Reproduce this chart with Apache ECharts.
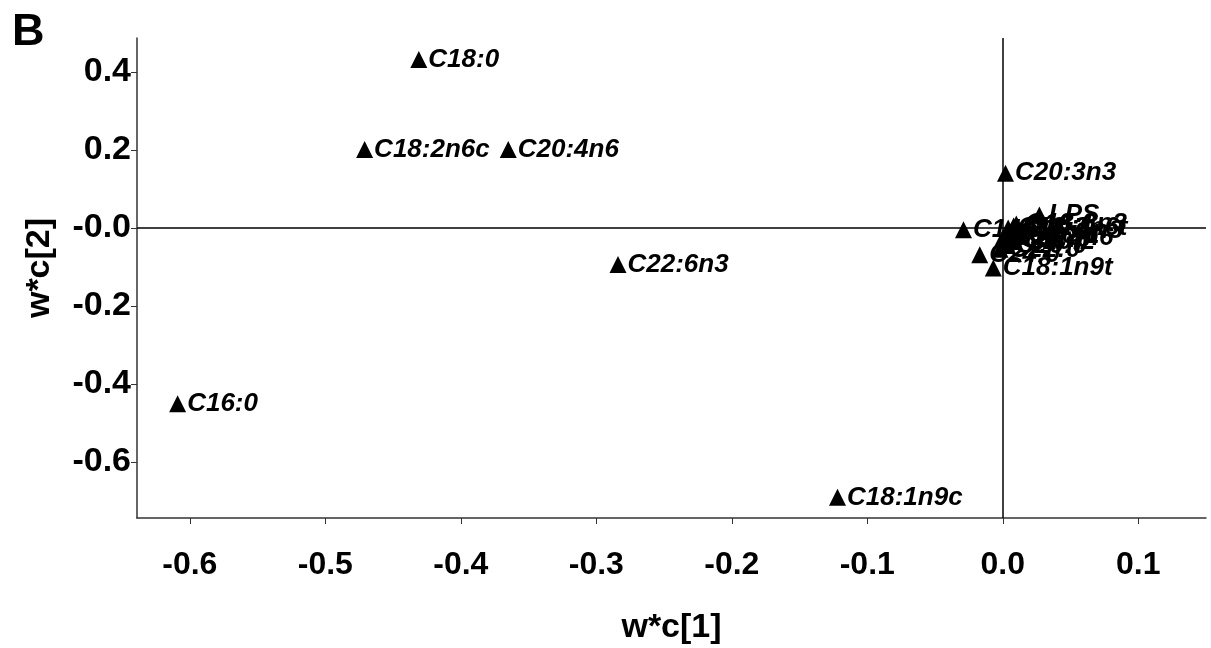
<!DOCTYPE html>
<html>
<head>
<meta charset="utf-8">
<script src="https://cdn.jsdelivr.net/npm/echarts@6/dist/echarts.min.js"></script>
<style>
  html, body { margin: 0; padding: 0; background: #fff; }
  #chart { width: 1211px; height: 648px; }
</style>
</head>
<body>
<div id="chart"></div>
<script>
// Loadings w*c[1] vs w*c[2] for each fatty acid and the LPS response
const names = ['C18:0', 'C18:2n6c', 'C20:4n6', 'C22:6n3', 'C16:0', 'C18:1n9c', 'C20:3n3',
               'C14:0', 'C15:0', 'C16:1', 'C17:0', 'C18:3n3', 'C20:0', 'C20:1', 'C20:2',
               'C22:0', 'C24:0', 'C18:3n6', 'C18:2n6t', 'C20:5n3', 'LPS', 'C18:1n9t'];
const wc1 = [-0.431, -0.471, -0.365, -0.284, -0.609, -0.122, 0.002,
             -0.029, 0.004, 0.008, 0.006, 0.010, 0.003, 0.012, 0.009,
             -0.002, -0.017, 0.000, 0.004, 0.007, 0.027, -0.007];
const wc2 = [0.432, 0.201, 0.201, -0.094, -0.451, -0.691, 0.140,
             -0.005, -0.012, 0.005, -0.030, 0.010, -0.045, -0.020, -0.035,
             -0.055, -0.069, -0.026, 0.000, -0.008, 0.033, -0.103];

const xTickValues = [-0.6, -0.5, -0.4, -0.3, -0.2, -0.1, 0.0, 0.1];
const xTickLabels = ['-0.6', '-0.5', '-0.4', '-0.3', '-0.2', '-0.1', '0.0', '0.1'];
const yTickValues = [-0.6, -0.4, -0.2, 0.0, 0.2, 0.4];
const yTickLabels = ['-0.6', '-0.4', '-0.2', '-0.0', '0.2', '0.4'];

const points = names.map((n, i) => ({ name: n, value: [wc1[i], wc2[i]] }));

function tickLabel(values, labels) {
  return function (v) {
    const i = values.findIndex(t => Math.abs(t - v) < 1e-9);
    return i >= 0 ? labels[i] : '';
  };
}

const boldText = { fontFamily: 'Liberation Sans', fontWeight: 'bold', color: '#000' };

const chart = echarts.init(document.getElementById('chart'));
chart.setOption({
  animation: false,
  backgroundColor: '#fff',
  grid: { left: 137, top: 38, right: 5, bottom: 130, outerBoundsMode: 'none' },
  xAxis: {
    type: 'value',
    min: -0.639, max: 0.15,
    name: 'w*c[1]',
    nameLocation: 'middle',
    nameGap: 93,
    nameTextStyle: Object.assign({ fontSize: 34 }, boldText),
    axisLine: { onZero: false, lineStyle: { color: '#333', width: 1.5 } },
    axisTick: { show: true, inside: false, length: 6, customValues: xTickValues, lineStyle: { color: '#333' } },
    axisLabel: Object.assign({
      customValues: xTickValues,
      formatter: tickLabel(xTickValues, xTickLabels),
      margin: 31,
      fontSize: 32
    }, boldText),
    splitLine: { show: false }
  },
  yAxis: {
    type: 'value',
    min: -0.744, max: 0.487,
    axisLine: { onZero: false, lineStyle: { color: '#333', width: 1.5 } },
    axisTick: { show: true, inside: false, length: 6, customValues: yTickValues, lineStyle: { color: '#333' } },
    axisLabel: Object.assign({
      customValues: yTickValues,
      formatter: tickLabel(yTickValues, yTickLabels),
      margin: 6,
      padding: [4, 0, 0, 0],
      fontSize: 34
    }, boldText),
    splitLine: { show: false }
  },
  graphic: [
    {
      type: 'text', left: 12, top: 10,
      style: { text: 'B', fontFamily: 'Liberation Sans', fontWeight: 'bold', fontSize: 45, fill: '#000' }
    },
    {
      type: 'text', x: 40, y: 268, rotation: Math.PI / 2,
      style: { text: 'w*c[2]', fontFamily: 'Liberation Sans', fontWeight: 'bold', fontSize: 34, fill: '#000',
               align: 'center', verticalAlign: 'middle' }
    }
  ],
  series: [{
    type: 'scatter',
    data: points,
    symbol: 'triangle',
    symbolSize: [17, 17],
    itemStyle: { color: '#000', opacity: 1 },
    label: {
      show: true,
      position: 'right',
      distance: 1,
      formatter: '{b}',
      fontFamily: 'Liberation Sans', fontWeight: 'bold', fontStyle: 'italic', fontSize: 26, color: '#000'
    },
    labelLayout: { hideOverlap: false },
    emphasis: { disabled: true },
    markLine: {
      silent: true,
      symbol: 'none',
      label: { show: false },
      lineStyle: { color: '#000', width: 1.5, type: 'solid' },
      data: [{ xAxis: 0 }, { yAxis: 0 }]
    },
    z: 3
  }]
});
</script>
</body>
</html>
